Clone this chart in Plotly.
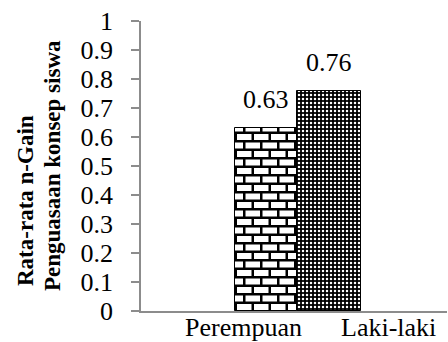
import plotly.graph_objects as go

# Mean n-Gain of concept mastery by gender
categories = ["Perempuan", "Laki-laki"]
values = [0.63, 0.76]
value_labels = ["0.63", "0.76"]
y_ticks = [0, 0.1, 0.2, 0.3, 0.4, 0.5, 0.6, 0.7, 0.8, 0.9, 1]
y_tick_text = ["0", "0.1", "0.2", "0.3", "0.4", "0.5", "0.6", "0.7", "0.8", "0.9", "1"]
title_lines = ["Rata-rata n-Gain", "Penguasaan konsep siswa"]

FONT = "Times New Roman, Liberation Serif, serif"

# brick tile (17 x 17): two mortar courses and staggered joints
BRICK = ("M0,0H17V2.5H0Z M0,8.5H17V11H0Z "
         "M0,2.5H2.5V8.5H0Z M8.5,11H11V17H8.5Z")

# bar placement inside each category slot (category units)
bar_offsets = [0.115, -0.48]
bar_widths = [0.405, 0.418]
# horizontal nudge of the category captions (px)
caption_shift = [26, 18]

fig = go.Figure()

fig.add_trace(go.Bar(
    x=[categories[0]], y=[values[0]],
    offset=bar_offsets[0], width=bar_widths[0],
    marker=dict(
        color="white",
        line=dict(color="black", width=1),
        pattern=dict(path=BRICK, size=17, fgcolor="black", bgcolor="white",
                     fgopacity=1, fillmode="overlay"),
    ),
    showlegend=False,
))

fig.add_trace(go.Bar(
    x=[categories[1]], y=[values[1]],
    offset=bar_offsets[1], width=bar_widths[1],
    marker=dict(
        color="black",
        line=dict(color="black", width=1),
        pattern=dict(shape=".", size=4, solidity=0.3, fgcolor="white",
                     bgcolor="black", fgopacity=1, fillmode="overlay"),
    ),
    showlegend=False,
))

# value labels above each bar, centred on the bar
for i, (v, lab) in enumerate(zip(values, value_labels)):
    fig.add_annotation(
        x=i + bar_offsets[i] + bar_widths[i] / 2, y=v,
        xref="x", yref="y",
        text=lab, showarrow=False,
        yanchor="bottom", yshift=12,
        font=dict(family=FONT, size=26, color="black"),
    )

# category captions just under the x axis line
for cat, dx in zip(categories, caption_shift):
    fig.add_annotation(
        x=cat, y=0, xref="x", yref="y",
        text=cat, showarrow=False,
        xanchor="center", yanchor="top", xshift=dx, yshift=0,
        font=dict(family=FONT, size=26, color="black"),
    )

# two-line rotated axis title
title_x = [25, 52]
title_y = [200, 165]
for line, tx, ty in zip(title_lines, title_x, title_y):
    fig.add_annotation(
        x=0, y=1, xref="paper", yref="paper",
        xanchor="center", yanchor="middle",
        xshift=tx - 141, yshift=20 - ty,
        text="<b>" + line + "</b>", showarrow=False, textangle=-90,
        font=dict(family=FONT, size=23, color="black"),
    )

fig.update_layout(
    template="none",
    width=448, height=342,
    margin=dict(l=141, r=1, t=21, b=31),
    paper_bgcolor="white", plot_bgcolor="white",
    font=dict(family=FONT, size=26, color="black"),
    bargap=0,
    xaxis=dict(
        type="category",
        categoryorder="array", categoryarray=categories,
        range=[-0.5, 1.5],
        automargin=False,
        showline=True, linecolor="#8c8c8c", linewidth=1.5,
        ticks="", showgrid=False, zeroline=False,
        showticklabels=False,
    ),
    yaxis=dict(
        range=[0, 1],
        tickvals=y_ticks, ticktext=[t + "\u2002" for t in y_tick_text],
        automargin=False,
        showline=True, linecolor="#8c8c8c", linewidth=1.5,
        ticks="outside", ticklen=8, tickcolor="#8c8c8c", tickwidth=1.5,
        showgrid=False, zeroline=False,
        tickfont=dict(family=FONT, size=26, color="black"),
    ),
)

fig.write_html("out.html")
